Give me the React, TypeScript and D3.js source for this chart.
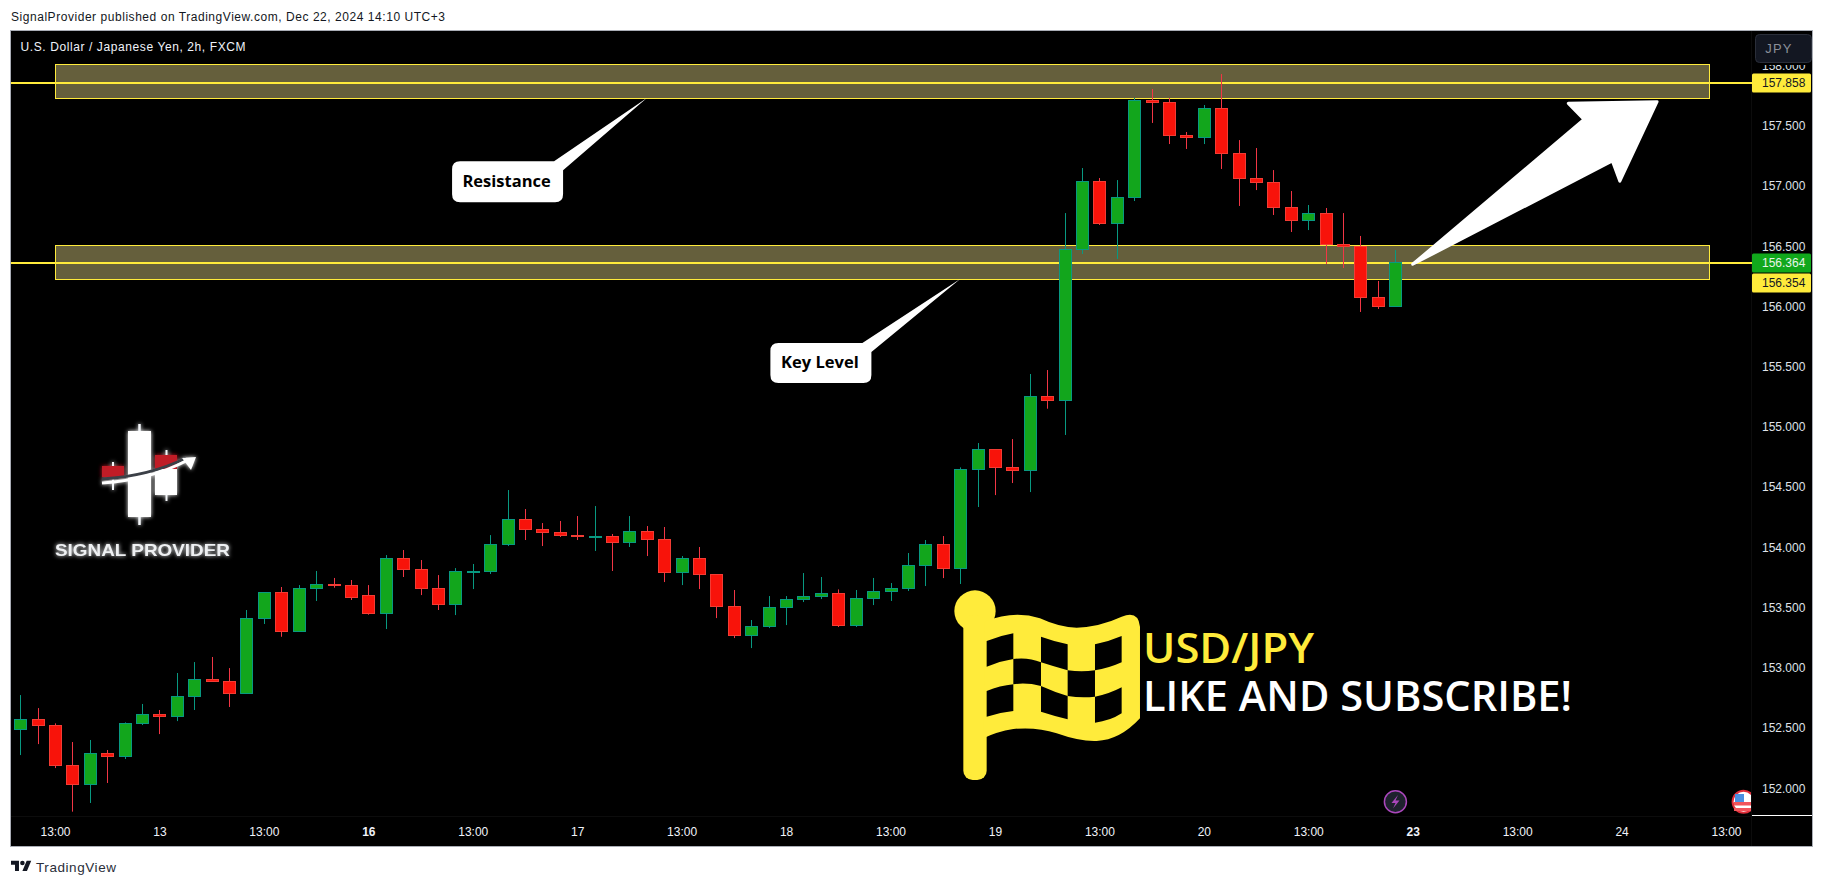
import * as React from 'react';
import { useRef, useEffect } from 'react';
import * as d3 from 'd3';

// USD/JPY 2h candles
const opens = [152.486, 152.572, 152.522, 152.190, 152.030, 152.290, 152.262, 152.536, 152.614, 152.594, 152.760, 152.904, 152.888, 152.785, 153.408, 153.626, 153.300, 153.657, 153.696, 153.685, 153.602, 153.449, 153.909, 153.817, 153.660, 153.524, 153.798, 153.798, 154.022, 154.232, 154.149, 154.125, 154.100, 154.089, 154.091, 154.039, 154.133, 154.066, 153.790, 153.909, 153.776, 153.510, 153.267, 153.341, 153.499, 153.566, 153.591, 153.618, 153.350, 153.574, 153.632, 153.657, 153.848, 154.025, 153.823, 154.645, 154.814, 154.664, 154.636, 155.254, 155.220, 156.474, 157.039, 156.687, 156.905, 157.711, 157.694, 157.420, 157.404, 157.644, 157.271, 157.063, 157.030, 156.822, 156.712, 156.773, 156.515, 156.499, 156.075, 155.998];
const highs = [152.774, 152.666, 152.539, 152.384, 152.401, 152.318, 152.547, 152.700, 152.650, 152.957, 153.048, 153.090, 152.998, 153.480, 153.626, 153.671, 153.687, 153.804, 153.746, 153.729, 153.687, 153.936, 153.978, 153.895, 153.770, 153.828, 153.862, 154.102, 154.476, 154.318, 154.202, 154.219, 154.260, 154.343, 154.111, 154.260, 154.177, 154.169, 153.928, 154.003, 153.776, 153.646, 153.397, 153.596, 153.596, 153.787, 153.754, 153.651, 153.646, 153.746, 153.704, 153.953, 154.061, 154.094, 154.664, 154.866, 154.814, 154.899, 155.439, 155.472, 156.775, 157.149, 157.066, 157.049, 157.730, 157.805, 157.730, 157.448, 157.672, 157.929, 157.381, 157.315, 157.132, 156.958, 156.842, 156.817, 156.775, 156.585, 156.211, 156.468];
const lows = [152.276, 152.367, 152.168, 151.806, 151.878, 152.044, 152.243, 152.525, 152.450, 152.558, 152.650, 152.885, 152.675, 152.785, 153.364, 153.258, 153.300, 153.555, 153.665, 153.563, 153.441, 153.322, 153.754, 153.604, 153.480, 153.438, 153.654, 153.779, 154.011, 154.061, 154.011, 154.086, 154.061, 153.970, 153.804, 154.003, 153.928, 153.712, 153.687, 153.654, 153.413, 153.247, 153.164, 153.330, 153.355, 153.546, 153.571, 153.339, 153.339, 153.521, 153.555, 153.638, 153.679, 153.745, 153.696, 154.335, 154.434, 154.534, 154.459, 155.151, 154.933, 156.435, 156.676, 156.394, 156.875, 157.523, 157.348, 157.307, 157.348, 157.141, 156.834, 156.966, 156.759, 156.618, 156.634, 156.352, 156.319, 155.954, 155.979, 155.998];
const closes = [152.572, 152.520, 152.188, 152.030, 152.290, 152.262, 152.539, 152.614, 152.594, 152.763, 152.904, 152.885, 152.785, 153.411, 153.626, 153.300, 153.660, 153.693, 153.690, 153.582, 153.449, 153.909, 153.817, 153.657, 153.524, 153.801, 153.801, 154.025, 154.232, 154.147, 154.122, 154.097, 154.094, 154.091, 154.039, 154.133, 154.064, 153.790, 153.909, 153.773, 153.507, 153.267, 153.344, 153.502, 153.568, 153.593, 153.618, 153.350, 153.577, 153.635, 153.660, 153.851, 154.025, 153.823, 154.647, 154.814, 154.661, 154.636, 155.254, 155.220, 156.474, 157.039, 156.687, 156.905, 157.711, 157.691, 157.417, 157.404, 157.644, 157.271, 157.060, 157.027, 156.822, 156.712, 156.773, 156.513, 156.499, 156.073, 155.998, 156.366];

const timeTicks = [2, 8, 14, 20, 26, 32, 38, 44, 50, 56, 62, 68, 74, 80, 86, 92, 98];
const timeLabels = ['13:00', '13', '13:00', '16', '13:00', '17', '13:00', '18', '13:00', '19', '13:00', '20', '13:00', '23', '13:00', '24', '13:00'];
const boldLabels = ['16', '23'];
const priceTicks = [152, 152.5, 153, 153.5, 154, 154.5, 155, 155.5, 156, 156.5, 157, 157.5, 158];

// drawn levels: [bar from, bar to, price low, price high]
const zones = [
  [2, 97, 157.724, 158.01],
  [2, 97, 156.225, 156.507],
];
const levelPrices = [157.858, 156.364];
const priceTags = [
  { price: 157.858, text: '157.858', fill: '#ffeb3b', color: '#131722' },
  { price: 156.364, text: '156.364', fill: '#11a81c', color: '#e8f5e9' },
  { price: 156.198, text: '156.354', fill: '#ffeb3b', color: '#131722' },
];

// callouts, tip and box centre in bar index / price
const callouts = [
  { text: 'Resistance', tip: [36, 157.73], centre: [28, 157.035], w: 111, h: 41 },
  { text: 'Key Level', tip: [54, 156.228], centre: [46, 155.53], w: 101, h: 40 },
];
const arrowPoints: [number, number][] = [
  [80, 156.35], [89.84, 157.553], [88.94, 157.686], [94.04, 157.7], [91.9, 157.04], [91.47, 157.207],
];

const flagHoles = [
  'M110 168 Q150 152 190 145 L190 222 Q150 228 110 245Z',
  'M273 155 Q315 170 353 178 L353 256 Q310 244 273 232Z',
  'M435 178 Q475 170 515 153 L515 232 Q475 250 435 256Z',
  'M190 222 Q235 216 273 232 L273 303 Q230 292 190 298Z',
  'M353 256 Q395 262 435 256 L435 335 Q395 340 353 333Z',
  'M110 318 Q150 302 190 298 L190 378 Q150 382 110 395Z',
  'M273 303 Q315 322 353 333 L353 403 Q310 392 273 380Z',
  'M435 335 Q475 328 515 307 L515 385 Q480 408 435 413Z',
];

export default function App() {
  const chartRef = useRef<SVGGElement>(null);

  const xScale = d3.scaleLinear().domain([0, 79]).range([20.2, 1395.3]);
  const yScale = d3.scaleLinear().domain([152, 158]).range([788.3, 65.5]);

  useEffect(() => {
    if (!chartRef.current) return;
    const g = d3.select(chartRef.current);
    g.selectAll('*').remove();

    const font = 'Liberation Sans, Arial, sans-serif';

    /* Axes */
    const xAxis = g.append('g')
      .attr('transform', 'translate(0,817)')
      .call(d3.axisBottom(xScale).tickValues(timeTicks).tickSize(0).tickPadding(10).tickFormat((_, i) => timeLabels[i]));
    xAxis.select('.domain').remove();
    xAxis.selectAll('.tick text')
      .attr('fill', '#f0f3fa')
      .style('font', `12px ${font}`)
      .style('font-weight', (_, i) => (boldLabels.includes(timeLabels[i]) ? 700 : 400));

    const yAxis = g.append('g')
      .attr('transform', 'translate(1752,0)')
      .call(d3.axisRight(yScale).tickValues(priceTicks).tickSize(0).tickPadding(10).tickFormat((d) => (d as number).toFixed(3)));
    yAxis.select('.domain').remove();
    yAxis.selectAll('.tick text')
      .attr('fill', '#dfe2e8')
      .style('font', `12px ${font}`);

    // top label sits mostly behind the currency button
    g.append('rect')
      .attr('x', 1752)
      .attr('y', 31)
      .attr('width', 60)
      .attr('height', 34)
      .attr('fill', '#000');

    /* Zones and level lines */
    g.append('g').selectAll('rect')
      .data(zones)
      .join('rect')
      .attr('x', (d) => Math.round(xScale(d[0])) + 0.5)
      .attr('width', (d) => Math.round(xScale(d[1]) - xScale(d[0])))
      .attr('y', (d) => Math.round(yScale(d[3])) + 0.5)
      .attr('height', (d) => Math.round(yScale(d[2]) - yScale(d[3])))
      .attr('fill', '#655f3c')
      .attr('stroke', '#ffeb3b');

    g.append('g').selectAll('line')
      .data(levelPrices)
      .join('line')
      .attr('x1', 11)
      .attr('x2', 1752)
      .attr('y1', (d) => Math.round(yScale(d)))
      .attr('y2', (d) => Math.round(yScale(d)))
      .attr('stroke', '#ffeb3b')
      .attr('stroke-width', 2);

    /* Candles */
    const candles = g.append('g').selectAll('g')
      .data(d3.range(opens.length))
      .join('g')
      .attr('transform', (i) => `translate(${Math.round(xScale(i))},0)`);

    candles.append('line')
      .attr('x1', 0.5)
      .attr('x2', 0.5)
      .attr('y1', (i) => yScale(highs[i]))
      .attr('y2', (i) => yScale(lows[i]))
      .attr('stroke', (i) => (closes[i] >= opens[i] ? '#089981' : '#f23645'));

    candles.append('rect')
      .attr('x', -5.5)
      .attr('width', 12)
      .attr('y', (i) => Math.round(yScale(Math.max(opens[i], closes[i]))) + 0.5)
      .attr('height', (i) => Math.max(1, Math.round(Math.abs(yScale(opens[i]) - yScale(closes[i])))))
      .attr('fill', (i) => (closes[i] >= opens[i] ? '#12a61c' : '#f8130a'))
      .attr('stroke', (i) => (closes[i] >= opens[i] ? '#089981' : '#f23c34'));

    /* Price tags */
    const tags = g.append('g').selectAll('g')
      .data(priceTags)
      .join('g')
      .attr('transform', (d) => `translate(1752,${Math.round(yScale(d.price))})`);
    tags.append('rect')
      .attr('y', -9.5)
      .attr('width', 59)
      .attr('height', 19)
      .attr('rx', 1.5)
      .attr('fill', (d) => d.fill);
    tags.append('text')
      .attr('x', 10)
      .attr('dy', '0.34em')
      .attr('fill', (d) => d.color)
      .style('font', `12px ${font}`)
      .text((d) => d.text);

    /* Callouts */
    const notes = g.append('g').selectAll('g')
      .data(callouts)
      .join('g');
    notes.append('path')
      .attr('fill', '#fff')
      .attr('d', (d) => {
        const cx = xScale(d.centre[0]);
        const cy = yScale(d.centre[1]);
        const left = cx - d.w / 2;
        const top = cy - d.h / 2;
        const right = cx + d.w / 2;
        const bottom = cy + d.h / 2;
        const tx = xScale(d.tip[0]);
        const ty = yScale(d.tip[1]);
        return `M${left + 8} ${top} L${right - 9} ${top} L${tx} ${ty} L${right} ${top + 9} L${right} ${bottom - 8} Q${right} ${bottom} ${right - 8} ${bottom} L${left + 8} ${bottom} Q${left} ${bottom} ${left} ${bottom - 8} L${left} ${top + 8} Q${left} ${top} ${left + 8} ${top}Z`;
      });
    notes.append('text')
      .attr('x', (d) => xScale(d.centre[0]) - 1)
      .attr('y', (d) => yScale(d.centre[1]) + 5)
      .attr('text-anchor', 'middle')
      .attr('fill', '#000')
      .style('font', '700 16.5px "Open Sans", sans-serif')
      .text((d) => d.text);

    /* Big arrow */
    const arrowLine = d3.line<[number, number]>()
      .x((d) => xScale(d[0]))
      .y((d) => yScale(d[1]))
      .curve(d3.curveLinearClosed);
    g.append('path')
      .attr('d', arrowLine(arrowPoints))
      .attr('fill', '#fff')
      .attr('stroke', '#fff')
      .attr('stroke-width', 3)
      .attr('stroke-linejoin', 'round');
  }, [xScale, yScale]);

  return (
    <svg width={1825} height={886} style={{ position: 'absolute', left: 0, top: 0, display: 'block', background: '#fff' }}>
      <defs>
        <filter id="glow" x="-20%" y="-20%" width="140%" height="140%">
          <feGaussianBlur stdDeviation="2.2" result="b" />
          <feMerge>
            <feMergeNode in="b" />
            <feMergeNode in="SourceGraphic" />
          </feMerge>
        </filter>
        <clipPath id="plotClip"><rect x={11} y={31} width={1740} height={786} /></clipPath>
      </defs>

      <text x={11} y={21} fontFamily="Liberation Sans, sans-serif" fontSize={12} fill="#131722" textLength={434} lengthAdjust="spacing">
        SignalProvider published on TradingView.com, Dec 22, 2024 14:10 UTC+3
      </text>

      <rect x={10.5} y={30.5} width={1802} height={816} fill="#000" stroke="#a9adb5" />
      <line x1={1751.5} x2={1751.5} y1={31} y2={846} stroke="#0c0c0c" />
      <line x1={11} x2={1751} y1={816.5} y2={816.5} stroke="#0c0c0c" />

      <text x={20.5} y={51} fontFamily="Liberation Sans, sans-serif" fontSize={12} fill="#f0f3fa" textLength={225} lengthAdjust="spacing">
        U.S. Dollar / Japanese Yen, 2h, FXCM
      </text>

      {/* Channel logo */}
      <g filter="url(#glow)">
        <line x1={139.5} x2={139.5} y1={424} y2={525} stroke="#f4f7fa" strokeWidth={2.5} />
        <rect x={128} y={431} width={23} height={86} fill="#fff" />
        <line x1={113} x2={113} y1={462} y2={490} stroke="#f4f7fa" strokeWidth={2} />
        <line x1={166.5} x2={166.5} y1={450} y2={501} stroke="#f4f7fa" strokeWidth={2} />
        <rect x={102} y={466} width={22} height={11} fill="#c01c28" />
        <rect x={155} y={455} width={22} height={15} fill="#c01c28" />
        <rect x={155} y={469} width={22} height={26} fill="#fff" />
        <path d="M102 479 Q150 476 186 458" fill="none" stroke="#3a3f47" strokeWidth={3} />
        <path d="M102 483 Q150 480 188 460" fill="none" stroke="#fff" strokeWidth={3} />
        <path d="M196 457 L182 458 L191 470Z" fill="#fff" />
        <text x={55} y={556} fontFamily="Liberation Sans, sans-serif" fontWeight={700} fontSize={17} fill="#eef0f2" textLength={175} lengthAdjust="spacingAndGlyphs">
          SIGNAL PROVIDER
        </text>
      </g>

      <g ref={chartRef} />

      {/* Checkered flag sticker */}
      <g transform="translate(950,585) scale(0.3333)" fill="#ffeb3b">
        <circle cx={75} cy={78} r={62} />
        <rect x={40} y={90} width={70} height={495} rx={28} />
        <path d="M105 110 Q190 75 270 100 Q330 128 380 128 Q450 125 515 95 Q565 75 570 125 L570 400 Q510 465 440 468 Q390 470 320 445 Q260 425 190 432 Q140 440 100 460Z" />
        <g fill="#000">
          {flagHoles.map((d) => <path key={d} d={d} />)}
        </g>
      </g>
      <text x={1143} y={663} fontFamily="Open Sans, sans-serif" fontWeight={600} fontSize={41} fill="#ffeb3b" textLength={171} lengthAdjust="spacingAndGlyphs">USD/JPY</text>
      <text x={1143} y={710.5} fontFamily="Open Sans, sans-serif" fontWeight={600} fontSize={42} fill="#fff" textLength={429} lengthAdjust="spacingAndGlyphs">LIKE AND SUBSCRIBE!</text>

      {/* Event markers */}
      <circle cx={1395.4} cy={801.7} r={11} fill="#1e222d" stroke="#ab47bc" strokeWidth={1.5} />
      <path d="M1398 795 L1391.5 803 L1395.5 803 L1393 808.5 L1399.5 800.5 L1395.5 800.5Z" fill="#ab47bc" />
      <g clipPath="url(#plotClip)">
        <circle cx={1743.6} cy={801.7} r={11} fill="#fff" stroke="#e02e3a" strokeWidth={2} />
        <rect x={1734} y={802} width={20} height={3.5} fill="#f2545b" />
        <rect x={1734} y={808} width={20} height={3} fill="#f2545b" />
        <rect x={1735} y={794} width={9} height={8} fill="#4a90e2" />
      </g>

      {/* Currency button and axis end */}
      <rect x={1755.5} y={34.5} width={56} height={28} rx={4} fill="#131722" stroke="#2a2e39" />
      <text x={1779} y={53} textAnchor="middle" fontFamily="Liberation Sans, sans-serif" fontSize={13} letterSpacing={1.2} fill="#8a8f99">JPY</text>
      <line x1={1752} x2={1812} y1={815.5} y2={815.5} stroke="#fff" />

      {/* TradingView mark */}
      <g transform="translate(11,858.5) scale(0.57)" fill="#131722">
        <path d="M14 22H7V11H0V4h14v18zM28 22h-8l7.5-18h8L28 22z" />
        <circle cx={20} cy={8} r={4} />
      </g>
      <text x={36} y={871.5} fontFamily="Liberation Sans, sans-serif" fontSize={13.5} fill="#2a2e39" textLength={80} lengthAdjust="spacing">TradingView</text>
    </svg>
  );
}
